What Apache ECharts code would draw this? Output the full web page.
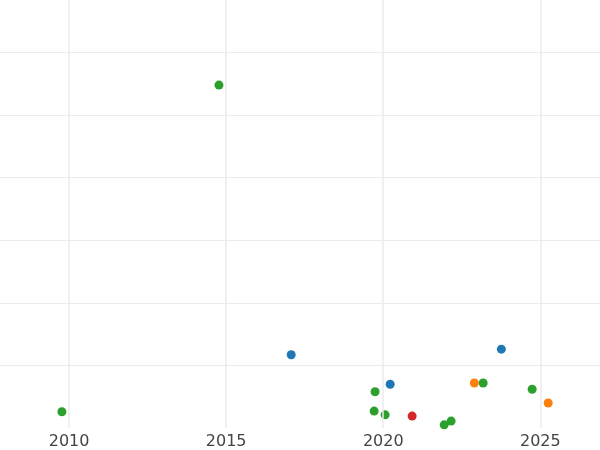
<!DOCTYPE html>
<html>
<head>
<meta charset="utf-8">
<script src="https://cdn.jsdelivr.net/npm/echarts@6/dist/echarts.min.js"></script>
<style>html,body{margin:0;padding:0;background:#fff}#chart{width:600px;height:450px}</style>
</head>
<body>
<div id="chart"></div>
<script>
// points: [year, value]
var blueData = [[2017.07, 1.17], [2020.22, 0.70], [2023.76, 1.26]];
var orangeData = [[2022.9, 0.72], [2025.25, 0.40]];
var greenData = [[2014.77, 5.48], [2009.77, 0.26], [2019.74, 0.58], [2019.71, 0.27],
  [2020.06, 0.21], [2021.94, 0.05], [2022.16, 0.11], [2023.18, 0.72], [2024.74, 0.62]];
var redData = [[2020.92, 0.19]];

var myChart = echarts.init(document.getElementById("chart"));
function serie(data, color) {
  return {
    type: "scatter",
    data: data,
    symbolSize: 9,
    itemStyle: { color: color, opacity: 1 },
  };
}
var option = {
  animation: false,
  grid: { left: 0, right: 0, top: 0, bottom: 22 },
  xAxis: {
    type: "value",
    min: 2007.8,
    max: 2026.9,
    interval: 5,
    axisLine: { show: false },
    axisTick: { show: false },
    axisLabel: {
      color: "#444",
      fontSize: 16,
      fontFamily: "DejaVu Sans",
      margin: 6,
      customValues: [2010, 2015, 2020, 2025],
      formatter: function (v) { return String(Math.round(v)); },
    },
    splitLine: { show: false },
  },
  yAxis: {
    type: "value",
    min: 0,
    max: 6.84,
    interval: 1,
    axisLine: { show: false },
    axisTick: { show: false },
    axisLabel: { show: false },
    splitLine: {
      show: true,
      showMinLine: false,
      showMaxLine: false,
      lineStyle: { color: "#ebebeb", width: 1.2 },
    },
  },
  series: [
    serie(blueData, "#1f77b4"),
    serie(orangeData, "#ff7f0e"),
    serie(greenData, "#2ca02c"),
    serie(redData, "#d62728"),
    {
      type: "line",
      data: [],
      markLine: {
        silent: true,
        symbol: "none",
        label: { show: false },
        lineStyle: { color: "#ebebeb", width: 1.5, type: "solid" },
        data: [{ xAxis: 2010 }, { xAxis: 2015 }, { xAxis: 2020 }, { xAxis: 2025 }],
      },
    },
  ],
};
myChart.setOption(option);
</script>
</body>
</html>
